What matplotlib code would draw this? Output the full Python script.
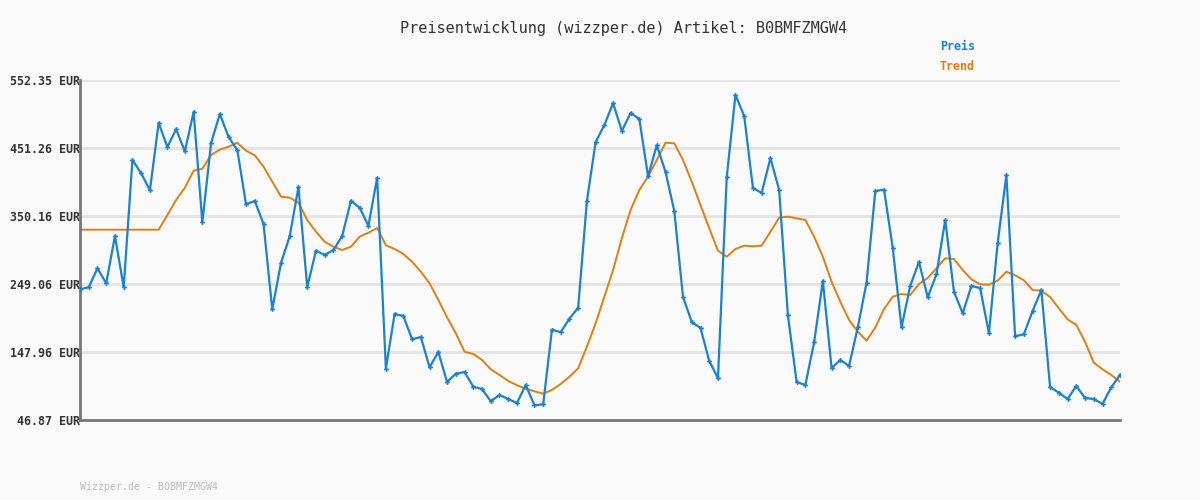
import numpy as np
import matplotlib.pyplot as plt

# price readings (EUR), one per sample
preis = [241.2, 244.2, 272.4, 250.1, 320.4, 244.2, 433.4, 413.6, 388.4, 488.4,
         452.7, 479.1, 446.3, 504.8, 340.8, 458.7, 501.8, 467.6, 448.3, 367.5,
         372.5, 338.3, 211.4, 280.3, 320.4, 393.3, 244.2, 298.6, 292.2, 299.6,
         320.4, 372.9, 362.5, 335.7, 406.7, 123.1, 204.5, 201.5, 166.8, 170.3,
         125.2, 148.0, 103.4, 115.7, 118.2, 96.4, 92.9, 74.7, 84.0, 78.1,
         72.1, 98.9, 68.7, 70.2, 181.1, 177.3, 197.5, 213.8, 372.0, 460.2,
         485.4, 517.9, 476.5, 503.3, 494.4, 409.2, 455.3, 415.6, 357.6, 229.7,
         192.6, 183.6, 134.6, 108.9, 407.7, 530.0, 498.8, 391.8, 384.4, 436.4,
         388.8, 202.5, 103.4, 98.9, 162.4, 253.5, 124.2, 136.1, 127.2, 184.7,
         251.0, 387.3, 389.3, 302.6, 184.7, 246.5, 281.8, 229.3, 263.5, 344.2,
         237.6, 205.5, 246.1, 243.1, 175.8, 309.6, 411.1, 171.3, 174.3, 208.9,
         240.1, 95.9, 87.5, 78.1, 97.4, 79.6, 78.1, 70.7, 95.5, 113.8]

trend = [329.8] * 10 + [
         351.6, 374.0, 392.2, 417.5, 420.5, 440.9, 448.7, 453.2, 459.1, 447.2,
         440.4, 423.5, 401.1, 378.9, 377.4, 369.9, 344.2, 326.8, 311.9, 304.5,
         299.6, 304.5, 319.4, 325.3, 332.3, 306.6, 301.1, 293.7, 282.2, 267.4,
         250.1, 225.3, 199.6, 175.8, 148.4, 145.0, 136.1, 122.2, 113.8, 104.9,
         98.5, 93.4, 89.5, 86.0, 91.5, 100.4, 111.2, 123.7, 155.8, 190.6,
         230.2, 269.9, 317.0, 359.1, 388.8, 408.6, 433.4, 459.1, 458.2, 433.4,
         401.1, 366.5, 331.9, 298.6, 289.6, 301.1, 306.0, 305.1, 306.0, 326.8,
         347.6, 349.1, 346.7, 344.2, 319.4, 289.6, 252.5, 222.7, 195.5, 178.2,
         164.8, 184.4, 211.9, 230.2, 234.2, 232.7, 249.1, 258.0, 272.4, 287.3,
         286.2, 269.9, 256.0, 248.6, 248.0, 254.0, 267.4, 262.0, 254.6, 240.1,
         239.1, 229.7, 212.9, 196.6, 188.1, 163.3, 132.1, 122.2, 113.8, 103.8]

yticks = [46.87, 147.96, 249.06, 350.16, 451.26, 552.35]
artikel = "B0BMFZMGW4"

x = np.arange(len(preis))

fig = plt.figure(figsize=(12, 5), dpi=100, facecolor='#fafafa')
ax = fig.add_axes([80/1200, 80/500, 1040/1200, 340/500])
ax.set_facecolor('#fafafa')

for t in yticks[1:]:
    ax.axhline(t, color='#e3e3e3', lw=2, zorder=0)

ax.plot(x, trend, color='#e07f10', lw=1.4, zorder=2)
ax.plot(x, preis, color='#1a82d0', lw=1.6, marker='P', markersize=3.5,
        markeredgewidth=0, zorder=3)

ax.set_xlim(0, len(preis) - 1)
ax.set_ylim(yticks[0], yticks[-1])
ax.set_xticks([])
ax.set_yticks(yticks)
ax.set_yticklabels([f"{t:.2f} EUR" for t in yticks], family='DejaVu Sans Mono',
                   fontsize=8.4, fontweight='bold', color='#333333')
ax.tick_params(axis='y', length=0, pad=0)
for s in ['top', 'right']:
    ax.spines[s].set_visible(False)
for s in ['left', 'bottom']:
    ax.spines[s].set_color('#777777')
    ax.spines[s].set_linewidth(2)

fig.text(624/1200, 1 - 28/500, f"Preisentwicklung (wizzper.de) Artikel: {artikel}",
         ha='center', va='center', family='DejaVu Sans Mono', fontsize=11,
         color='#333333')
fig.text(940/1200, 1 - 47/500, "Preis", ha='left', va='center',
         family='DejaVu Sans Mono', fontsize=8.4, fontweight='bold', color='#1a82d0')
fig.text(940/1200, 1 - 67/500, "Trend", ha='left', va='center',
         family='DejaVu Sans Mono', fontsize=8.4, fontweight='bold', color='#e07f10')
fig.text(80/1200, 1 - 487/500, f"Wizzper.de - {artikel}", ha='left', va='center',
         family='DejaVu Sans Mono', fontsize=7.2, color='#bbbbbb')

fig.savefig('out.png', dpi=100, facecolor='#fafafa')
